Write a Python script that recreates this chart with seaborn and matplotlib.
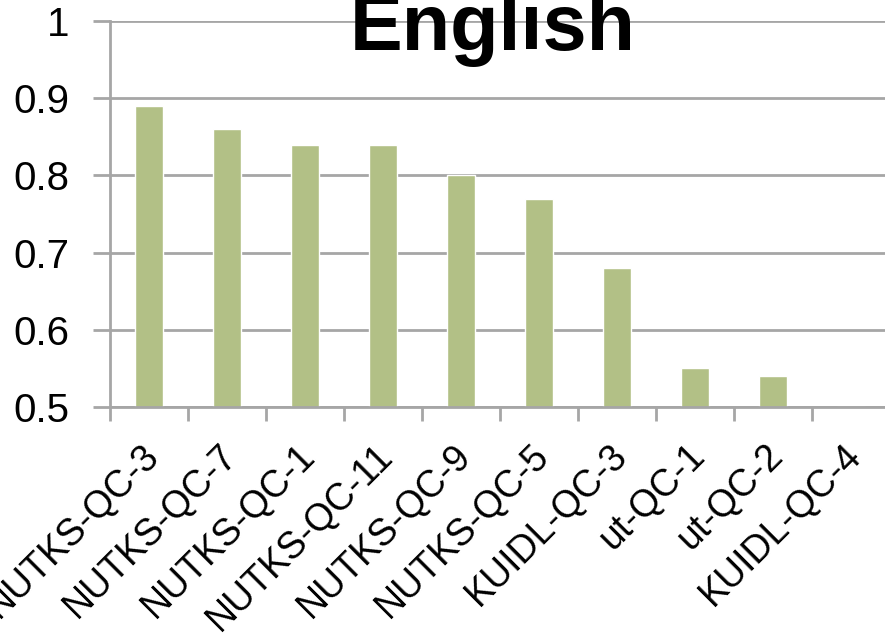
import matplotlib
matplotlib.use("Agg")
import matplotlib.pyplot as plt
import matplotlib.transforms as mtransforms
import seaborn as sns
import pandas as pd
import numpy as np

runs = ["NUTKS-QC-3", "NUTKS-QC-7", "NUTKS-QC-1", "NUTKS-QC-11", "NUTKS-QC-9",
        "NUTKS-QC-5", "KUIDL-QC-3", "ut-QC-1", "ut-QC-2", "KUIDL-QC-4"]
scores = [0.89, 0.86, 0.84, 0.84, 0.80, 0.77, 0.68, 0.55, 0.54, 0.50]
y_ticks = [0.5, 0.6, 0.7, 0.8, 0.9, 1.0]
y_labels = ["0.5", "0.6", "0.7", "0.8", "0.9", "1"]

sns.set_theme(style="white")
plt.rcParams["font.family"] = ["Liberation Sans", "DejaVu Sans"]
plt.rcParams["text.color"] = "black"
plt.rcParams["xtick.color"] = "black"
plt.rcParams["ytick.color"] = "black"

df = pd.DataFrame({"run": runs, "score": scores})

grid_color = "#a6a6a6"
bar_color = "#b2c086"

fig = plt.figure(figsize=(8.85, 6.37), dpi=100)
ax = fig.add_axes([110 / 885, 1 - 407 / 637, 780 / 885, 386 / 637])

sns.barplot(data=df, x="run", y="score", color=bar_color, width=0.37,
            saturation=1, ax=ax, zorder=3)

ax.set_ylim(0.5, 1.0)
ax.set_xlim(-0.5, len(runs) - 0.5)
ax.set_yticks(y_ticks)
ax.set_yticklabels(y_labels, fontsize=29)
for y in y_ticks:
    ax.axhline(y, color=grid_color, lw=2, zorder=1)

ax.set_xticks(np.arange(len(runs)))
ax.set_xticklabels(runs, rotation=45, ha="right", rotation_mode="anchor",
                   fontsize=27)
ax.tick_params(axis="x", length=0, pad=16)
# nudge the slanted run names down and to the left
shift = mtransforms.ScaledTranslation(-8 / 100, -8 / 100, fig.dpi_scale_trans)
for lab in ax.get_xticklabels():
    lab.set_transform(lab.get_transform() + shift)
# category boundary ticks along the bottom axis
ax.set_xticks(np.arange(len(runs)) - 0.5, minor=True)
ax.tick_params(axis="x", which="minor", direction="out", length=10,
               width=2, color=grid_color, bottom=True)
ax.tick_params(axis="y", direction="out", length=12, width=2,
               color=grid_color, left=True, pad=17)

for side in ["top", "right"]:
    ax.spines[side].set_visible(False)
for side in ["left", "bottom"]:
    ax.spines[side].set_color(grid_color)
    ax.spines[side].set_linewidth(2)
    ax.spines[side].set_zorder(4)

ax.set_xlabel("")
ax.set_ylabel("")

fig.text(493 / 885, 1 - 50 / 637, "English", ha="center", va="baseline",
         fontsize=57, fontweight="bold", color="black")

fig.savefig("out.png", dpi=100)
